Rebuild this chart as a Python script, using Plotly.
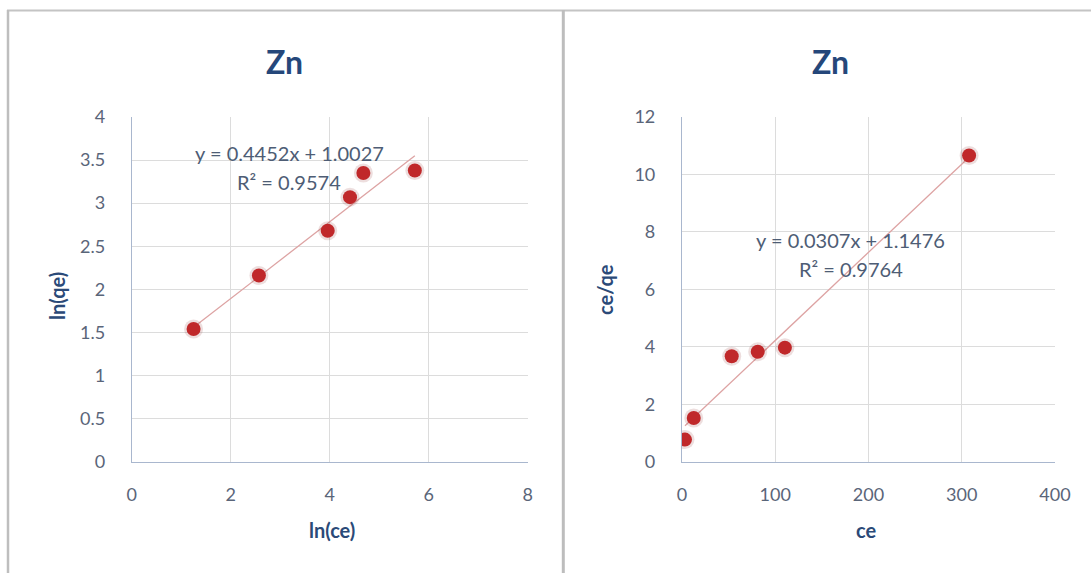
import plotly.graph_objects as go

W, H = 1091, 573

# Freundlich isotherm (linearised): ln(qe) vs ln(ce)
ln_ce = [1.25, 2.57, 3.96, 4.41, 4.68, 5.72]
ln_qe = [1.54, 2.16, 2.68, 3.07, 3.35, 3.38]
fr_slope, fr_intercept, fr_r2 = 0.4452, 1.0027, 0.9574

# Langmuir isotherm (linearised): ce/qe vs ce
ce = [3.3, 12.7, 53.4, 81.3, 110.4, 307.9]
ce_qe = [0.77, 1.52, 3.67, 3.83, 3.97, 10.66]
la_slope, la_intercept, la_r2 = 0.0307, 1.1476, 0.9764

left_xticks = [0, 2, 4, 6, 8]
left_yticks = [0, 0.5, 1, 1.5, 2, 2.5, 3, 3.5, 4]
right_xticks = [0, 100, 200, 300, 400]
right_yticks = [0, 2, 4, 6, 8, 10, 12]

FONT = "Lato"
TITLE_C = "#25477A"
AXTITLE_C = "#2B4A78"
TICK_C = "#5A6579"
EQ_C = "#4E5D75"
MARK_C = "#C0282A"
SHADOW_C = "rgba(140,50,50,0.16)"
TREND_C = "#DDA3A3"
GRID_C = "#DCDCDC"
AXLINE_C = "#A9B7CE"


def px(x):
    return x / W


def py(y):
    return 1 - y / H


def trend(xs, m, b):
    x0, x1 = min(xs), max(xs)
    return [x0, x1], [m * x0 + b, m * x1 + b]


fig = go.Figure()


def add_series(xs, ys, m, b, xa, ya):
    tx, ty = trend(xs, m, b)
    fig.add_trace(go.Scatter(x=tx, y=ty, mode="lines", xaxis=xa, yaxis=ya,
                             line=dict(color=TREND_C, width=1.3),
                             hoverinfo="skip"))
    fig.add_trace(go.Scatter(x=xs, y=ys, mode="markers", xaxis=xa, yaxis=ya,
                             marker=dict(size=19, color=SHADOW_C),
                             hoverinfo="skip"))
    fig.add_trace(go.Scatter(x=xs, y=ys, mode="markers", xaxis=xa, yaxis=ya,
                             marker=dict(size=14, color=MARK_C)))


add_series(ln_ce, ln_qe, fr_slope, fr_intercept, "x", "y")
add_series(ce, ce_qe, la_slope, la_intercept, "x2", "y2")


def axis(domain, rng, ticks, anchor, standoff):
    return dict(domain=domain, range=rng, tickvals=ticks, anchor=anchor,
                automargin=False,
                showgrid=True, gridcolor=GRID_C, gridwidth=1,
                showline=True, linecolor=AXLINE_C, linewidth=1,
                zeroline=False, ticks="", ticklabelstandoff=standoff,
                tickfont=dict(family=FONT, size=18, color=TICK_C),
                fixedrange=True)


yd = [py(461.7), py(117)]
fig.update_layout(
    width=W, height=H,
    margin=dict(l=0, r=0, t=0, b=0, autoexpand=False),
    paper_bgcolor="white", plot_bgcolor="white",
    showlegend=False,
    xaxis=axis([px(131.7), px(527.7)], [0, 8], left_xticks, "y", 17),
    yaxis=axis(yd, [0, 4], left_yticks, "x", 22),
    xaxis2=axis([px(681.9), px(1055)], [0, 400], right_xticks, "y2", 17),
    yaxis2=axis(yd, [0, 12], right_yticks, "x2", 22),
)

ann = []


def text(x, y, s, size, color, bold=False, angle=0):
    ann.append(dict(x=px(x), y=py(y), xref="paper", yref="paper", text=s,
                    showarrow=False, xanchor="center", yanchor="middle",
                    textangle=angle,
                    font=dict(family=FONT, size=size, color=color,
                              weight="bold" if bold else "normal")))


text(284, 62, "Zn", 32, TITLE_C, bold=True)
text(830, 62, "Zn", 32, TITLE_C, bold=True)
text(57, 296, "ln(qe)", 20, AXTITLE_C, bold=True, angle=-90)
text(332, 530, "ln(ce)", 20, AXTITLE_C, bold=True)
text(605, 290, "ce/qe", 20, AXTITLE_C, bold=True, angle=-90)
text(866, 530, "ce", 20, AXTITLE_C, bold=True)

text(289, 153, f"y = {fr_slope}x + {fr_intercept}", 20, EQ_C)
text(289, 182, f"R² = {fr_r2}", 20, EQ_C)
text(851, 240, f"y = {la_slope}x + {la_intercept}", 20, EQ_C)
text(851, 269, f"R² = {la_r2}", 20, EQ_C)
fig.update_layout(annotations=ann)

# chart panel frames
frame = dict(type="line", xref="paper", yref="paper", layer="above")
fig.update_layout(shapes=[
    dict(frame, x0=px(7), x1=1, y0=py(10.5), y1=py(10.5),
         line=dict(color="#C4C4C4", width=2)),
    dict(frame, x0=px(8), x1=px(8), y0=py(10), y1=0,
         line=dict(color="#BEBEBE", width=2.5)),
    dict(frame, x0=px(563.3), x1=px(563.3), y0=py(10), y1=0,
         line=dict(color="#BDBDBD", width=3)),
])

fig.write_html("out.html")
